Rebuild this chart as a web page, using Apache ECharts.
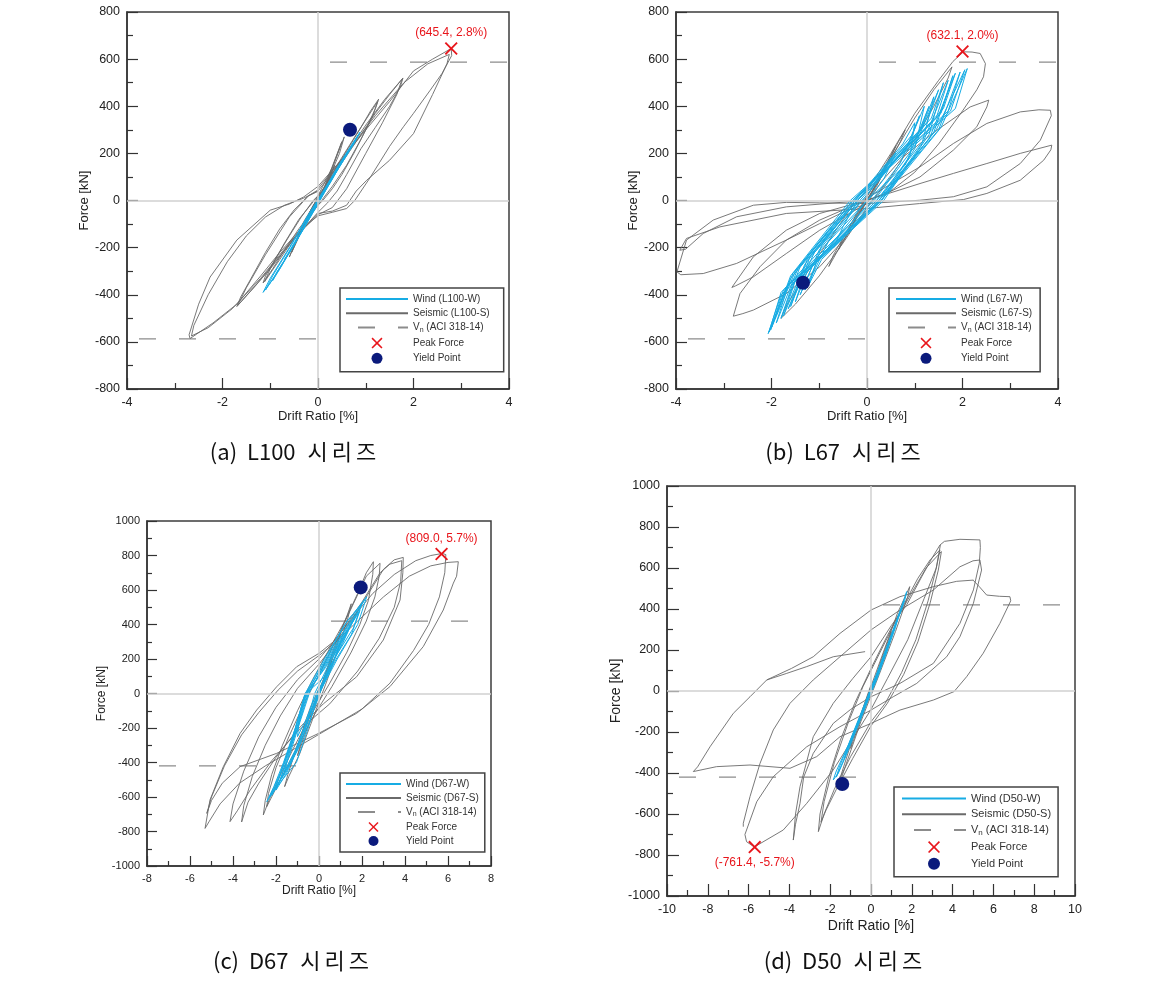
<!DOCTYPE html>
<html><head><meta charset="utf-8">
<script src="https://cdn.jsdelivr.net/npm/echarts@6/dist/echarts.min.js"></script>
<style>html,body{margin:0;padding:0;background:#fff}#c{width:1153px;height:984px}</style>
</head><body><div id="c"></div>
<script>
// ================= DATA =================
// ---- (a) L100 series ----
const aWind = [[0,0],[0.3,100],[0.5,170],[0.4,130],[0.1,30],[-0.2,-60],[-0.4,-130],[-0.3,-100],[0,-10],[0.3,90],[0.6,200],[0.7,230],[0.55,180],[0.2,60],[-0.2,-80],[-0.5,-180],[-0.7,-250],[-0.6,-220],[-0.3,-120],[0.1,30],[0.4,140],[0.75,250],[0.85,280],[0.7,230],[0.3,100],[-0.1,-40],[-0.5,-190],[-0.85,-300],[-0.95,-340],[-0.8,-290],[-0.4,-150],[0,0],[0.5,170],[0.88,290],[0.75,240],[0.35,110],[-0.1,-50],[-0.6,-220],[-1.0,-350],[-1.15,-390],[-1.0,-330],[-0.6,-200],[-0.2,-60],[0.2,70],[0.6,200],[0.8,260],[0.65,210],[0.2,60],[-0.3,-120],[-0.8,-290],[-1.1,-380],[-0.95,-320],[-0.5,-170],[0,0]];
const aSeisCore = [[0,0],[0.15,60],[0.3,120],[0.2,80],[0.05,20],[-0.1,-20],[-0.3,-100],[-0.2,-70],[-0.05,-10],[0.1,40],[0.35,150],[0.25,100],[0.05,20],[-0.15,-40],[-0.4,-150],[-0.3,-110],[-0.1,-30],[0.15,60],[0.55,270],[0.45,200],[0.2,80],[0,10],[-0.3,-90],[-0.6,-240],[-0.5,-190],[-0.2,-70],[0.1,40],[0.5,250],[0.3,140],[0,20],[-0.55,-220],[-0.4,-150],[-0.1,-30],[0,0]];
const aSeisLoop1 = [[0,0],[0.3,110],[0.6,210],[0.9,310],[1.1,380],[1.27,430],[1.2,390],[1.0,300],[0.75,200],[0.5,110],[0.3,50],[0.1,0],[-0.1,-40],[-0.4,-120],[-0.7,-210],[-0.95,-290],[-1.15,-350],[-1.1,-320],[-0.9,-250],[-0.6,-150],[-0.35,-70],[-0.1,0],[0.1,40],[0.4,150],[0.8,280],[1.25,420],[1.15,360],[0.9,260],[0.6,150],[0.3,60],[0,-20],[-0.4,-130],[-0.8,-250],[-1.12,-345],[-1.0,-290],[-0.7,-180],[-0.4,-80],[0,20]];
const aSeisLoop2 = [[0,20],[0.4,130],[0.8,250],[1.2,370],[1.5,450],[1.78,520],[1.72,480],[1.5,400],[1.2,310],[0.9,220],[0.6,110],[0.4,40],[0.2,-10],[0,-50],[-0.4,-140],[-0.9,-260],[-1.3,-360],[-1.7,-450],[-1.62,-410],[-1.4,-330],[-1.1,-220],[-0.8,-120],[-0.5,-40],[-0.2,20],[0,40],[0.5,170],[1.0,320],[1.4,430],[1.76,515],[1.65,450],[1.35,330],[1.0,200],[0.6,50],[0.3,-30],[0,-60],[-0.5,-160],[-1.0,-290],[-1.68,-445],[-1.5,-370],[-1.1,-230],[-0.6,-70],[-0.2,20],[0,45]];
const aSeisLoop3 = [[0,60],[0.5,175],[1.0,300],[1.5,420],[2.0,550],[2.4,600],[2.79,645],[2.8,615],[2.6,540],[2.35,468],[2.0,370],[1.79,313],[1.5,230],[1.1,100],[0.77,0],[0.6,-34],[0.3,-50],[0,-65],[-0.4,-130],[-0.8,-220],[-1.2,-320],[-1.7,-440],[-2.2,-520],[-2.68,-586],[-2.7,-570],[-2.5,-440],[-2.26,-325],[-1.7,-168],[-1.0,-41],[-0.6,-15],[-0.3,15],[0,60]];
const aSeisLoop4 = [[0,50],[0.6,200],[1.2,360],[1.8,500],[2.3,580],[2.75,620],[2.7,580],[2.4,450],[2.0,284],[1.5,171],[1.02,86],[0.8,40],[0.6,-20],[0.3,-45],[0,-55],[-0.6,-180],[-1.2,-330],[-1.8,-460],[-2.3,-540],[-2.65,-575],[-2.6,-530],[-2.3,-400],[-1.9,-260],[-1.5,-150],[-1.1,-70],[-0.7,-20],[-0.3,10],[0,40]];
const aVn = 587;
const aPeak = [[2.79, 645.4]];
const aPeakText = '(645.4, 2.8%)';
const aYield = [[0.67, 300]];

// ---- (b) L67 series ----
const bWind = [[0,0],[0.35,90],[0.6,200],[0.4,150],[-0.2,0],[-0.5,-110],[-0.7,-200],[-0.45,-150],[0.25,0],[0.9,190],[1.0,330],[0.75,240],[-0.25,0],[-0.95,-190],[-1.2,-350],[-0.95,-250],[0.3,0],[1.15,240],[1.4,440],[1.15,310],[-0.25,0],[-1.25,-250],[-1.6,-450],[-1.35,-320],[0.3,0],[1.4,290],[1.8,530],[1.55,370],[-0.3,0],[-1.45,-290],[-1.9,-520],[-1.65,-360],[0.3,0],[1.55,310],[2.1,560],[1.85,390],[-0.3,0],[-1.55,-310],[-2.07,-565],[-1.8,-400],[0.35,0],[1.3,280],[1.6,500],[1.35,350],[-0.25,0],[-1.5,-300],[-2.0,-540],[-1.75,-380],[0.3,0],[1.0,220],[1.2,400],[0.95,280],[-0.2,0],[-1.2,-240],[-1.5,-430],[-1.25,-300],[0.25,0],[1.5,300],[1.95,545],[1.7,380],[-0.3,0],[-1.4,-280],[-1.8,-500],[-1.55,-350],[0.2,0],[1.2,260],[1.7,510],[1.45,350],[-0.2,0],[-1.6,-330],[-2.05,-558],[-1.8,-390],[0,0],[0.8,150],[1.3,400],[1.1,290],[-0.15,0],[-1.0,-210],[-1.4,-400],[-1.15,-280],[0.2,0],[1.3,260],[1.85,540],[1.6,390],[-0.2,0],[-1.3,-270],[-1.75,-490],[-1.5,-340],[0.25,0],[1.45,300],[2.05,555],[1.75,380],[-0.35,0],[-1.6,-320],[-2.02,-550],[-1.7,-370],[0.15,0],[1.0,230],[1.5,470],[1.25,330],[-0.1,0],[-1.1,-220],[-1.65,-460],[-1.4,-330],[0.1,0],[0.7,160],[1.1,360],[0.9,250],[-0.1,0],[-0.8,-170],[-1.3,-380],[-1.05,-260],[0,0]];
const bSeisCore = [[0,0],[0.2,70],[0.4,150],[0.3,110],[0.05,20],[-0.2,-60],[-0.4,-140],[-0.3,-100],[0,0],[0.3,110],[0.6,230],[0.5,180],[0.2,60],[-0.2,-70],[-0.6,-210],[-0.5,-160],[-0.1,-20],[0.3,120],[0.8,300],[0.7,250],[0.3,100],[-0.3,-100],[-0.8,-280],[-0.7,-230],[-0.2,-50],[0,20]];
const bSeisLoop1 = [[0,20],[0.5,180],[1.0,350],[1.4,470],[1.78,567],[1.7,520],[1.4,400],[1.0,260],[0.5,100],[0,-30],[-0.5,-180],[-1.0,-320],[-1.5,-440],[-1.8,-500],[-1.7,-450],[-1.3,-320],[-0.8,-170],[-0.3,-20],[0,40]];
const bSeisLoop2 = [[0,40],[0.5,200],[1.0,370],[1.5,510],[1.8,590],[2.02,631],[2.2,630],[2.37,624],[2.48,581],[2.44,525],[2.3,470],[2.0,380],[1.5,240],[1.0,120],[0.5,40],[0,0],[-0.5,-40],[-0.99,-83],[-1.69,-168],[-2.24,-281],[-2.66,-395],[-2.8,-491],[-2.6,-480],[-2.38,-465],[-1.69,-395],[-0.99,-281],[-0.5,-170],[0,-40]];
const bSeisLoop3 = [[0,-13],[0.3,80],[0.76,185],[1.46,298],[2.16,397],[2.55,426],[2.51,397],[2.3,313],[1.81,214],[1.11,100],[0.41,30],[0,1],[-0.99,-55],[-1.69,-126],[-2.38,-239],[-2.83,-369],[-2.75,-362],[-2.38,-324],[-1.69,-225],[-0.99,-126],[0,-13]];
const bSeisLoop4 = [[0,10],[1.11,143],[1.81,242],[2.51,327],[3.21,376],[3.6,385],[3.84,383],[3.86,360],[3.63,256],[3.21,157],[2.51,58],[1.81,16],[1.1,1],[0,-13],[-1.0,-10],[-1.69,-8],[-2.38,-20],[-3.22,-83],[-3.78,-168],[-3.98,-303],[-3.9,-315],[-3.43,-310],[-2.73,-267],[-1.69,-168],[-0.99,-98],[-0.4,-40],[0,-15]];
const bSeisLoop5 = [[0,1],[1.11,72],[1.81,115],[2.51,157],[3.21,200],[3.87,235],[3.85,215],[3.7,171],[3.21,86],[2.51,30],[2.02,4],[1.1,-13],[0,-34],[-1.69,-55],[-3.08,-112],[-3.78,-161],[-3.92,-211],[-3.8,-207],[-3.43,-140],[-2.73,-69],[-1.69,-27],[0,1]];
const bVn = 587;
const bPeak = [[2.0, 632.1]];
const bPeakText = '(632.1, 2.0%)';
const bYield = [[-1.34, -349]];

// ---- (c) D67 series ----
const cWind = [[0,0],[0.55,150],[1.0,290],[0.7,200],[0.2,90],[-0.6,0],[-0.9,-130],[-1.0,-250],[-0.6,-150],[-0.1,0],[0.5,150],[1.1,290],[1.5,400],[1.1,320],[0.3,150],[-0.6,0],[-1.0,-180],[-1.35,-330],[-1.6,-450],[-1.1,-330],[-0.6,-170],[-0.05,0],[0.8,200],[1.5,340],[1.9,480],[1.5,400],[0.6,220],[-0.1,80],[-0.65,0],[-1.1,-200],[-1.6,-400],[-2.0,-540],[-1.5,-450],[-1.0,-300],[-0.5,-150],[0,0],[0.85,200],[1.8,400],[2.22,561],[1.2,400],[0.25,200],[-0.64,0],[-1.1,-200],[-1.65,-400],[-2.1,-540],[-2.43,-627],[-1.9,-530],[-1.05,-400],[-0.5,-200],[-0.04,0],[0.7,200],[1.6,380],[2.0,520],[1.3,420],[0.4,220],[-0.5,20],[-0.9,-150],[-1.45,-350],[-1.9,-500],[-2.2,-590],[-1.7,-480],[-1.0,-330],[-0.4,-150],[0.1,20],[0.9,250],[1.7,450],[1.2,350],[0.2,150],[-0.5,0],[-1.0,-200],[-1.5,-380],[-1.8,-500],[-1.3,-400],[-0.7,-200],[0,0],[0.6,200],[1.4,380],[2.1,540],[1.5,430],[0.5,230],[-0.3,60],[-0.75,-50],[-1.2,-250],[-1.8,-460],[-2.3,-600],[-1.8,-500],[-1.1,-350],[-0.6,-180],[-0.2,0],[0.5,180],[1.2,330],[1.8,470],[1.3,380],[0.4,200],[-0.4,20],[-0.9,-170],[-1.4,-370],[-2.0,-560],[-1.5,-460],[-0.8,-270],[-0.3,-80],[0,0]];
const cSeisCore = [[0,0],[0.3,100],[0.6,200],[0.5,150],[0.1,20],[-0.3,-90],[-0.6,-190],[-0.5,-140],[-0.1,-20],[0.3,110],[0.8,280],[1.0,350],[0.85,280],[0.4,120],[-0.1,-40],[-0.6,-220],[-1.0,-360],[-0.85,-290],[-0.4,-110],[0.2,80],[0.8,300],[1.3,450],[1.5,520],[1.35,440],[0.9,260],[0.3,50],[-0.3,-150],[-0.9,-350],[-1.4,-480],[-1.6,-540],[-1.45,-470],[-1.0,-300],[-0.4,-80],[0,30]];
const cSeisLoop1 = [[-2.59,-704],[-2.5,-620],[-2.2,-470],[-1.7,-300],[-1.0,-100],[-0.3,80],[0.4,240],[1.2,420],[1.8,580],[2.2,700],[2.53,764],[2.5,690],[2.3,540],[1.9,400],[1.3,240],[0.5,60],[-0.4,-130],[-1.2,-320],[-1.9,-500],[-2.3,-610],[-2.59,-704]];
const cSeisLoop2 = [[-2.43,-656],[-2.35,-580],[-2.0,-430],[-1.4,-250],[-0.7,-60],[0,110],[0.8,310],[1.6,520],[2.2,680],[2.84,755],[2.8,680],[2.6,560],[2.2,420],[1.5,240],[0.6,40],[-0.3,-140],[-1.1,-330],[-1.8,-500],[-2.43,-656]];
const cSeisLoop3 = [[-3.6,-745],[-3.5,-650],[-3.1,-480],[-2.5,-300],[-1.8,-130],[-1.0,30],[0,170],[0.8,300],[1.6,440],[2.4,600],[3.0,720],[3.5,775],[3.92,789],[3.9,700],[3.77,542],[2.99,310],[1.75,97],[0.2,-60],[-1.0,-210],[-2.0,-370],[-2.8,-520],[-3.3,-630],[-3.6,-745]];
const cSeisLoop4 = [[-4.14,-743],[-4.0,-640],[-3.5,-450],[-2.8,-250],[-2.0,-80],[-1.0,80],[0,200],[1.0,350],[2.0,530],[2.84,700],[3.3,750],[3.85,770],[3.8,650],[3.5,500],[2.8,320],[1.8,130],[0.5,-60],[-1.0,-220],[-2.2,-390],[-3.2,-560],[-3.8,-680],[-4.14,-743]];
const cSeisLoop5 = [[-5.3,-782],[-5.07,-617],[-4.45,-424],[-3.67,-231],[-2.9,-96],[-1.97,39],[-1.04,155],[0,233],[0.67,300],[1.5,430],[2.5,580],[3.5,690],[4.5,770],[5.2,800],[5.74,812],[5.9,805],[5.85,700],[5.6,560],[5.1,400],[4.4,250],[3.3,60],[2.0,-90],[0.5,-200],[-1.0,-310],[-2.5,-420],[-3.7,-520],[-4.6,-640],[-5.1,-740],[-5.3,-782]];
const cSeisLoop6 = [[-5.22,-695],[-5.0,-600],[-4.4,-420],[-3.6,-240],[-2.8,-110],[-1.9,20],[-1.0,130],[0,220],[0.7,290],[1.8,420],[3.0,560],[4.2,680],[5.2,740],[6.0,760],[6.48,764],[6.4,680],[6.25,640],[5.78,484],[4.85,272],[3.3,40],[1.75,-115],[0,-230],[-1.97,-347],[-3.67,-424],[-4.5,-520],[-5.0,-620],[-5.22,-695]];
const cVn = 420;
const cPeak = [[5.7, 809.0]];
const cPeakText = '(809.0, 5.7%)';
const cYield = [[1.94, 615]];

// ---- (d) D50 series ----
const dWind = [[0,0],[0.5,130],[0.9,240],[0.8,200],[0.3,60],[-0.3,-80],[-0.8,-200],[-0.7,-170],[-0.2,-40],[0.4,110],[1.0,270],[1.3,350],[1.2,310],[0.7,170],[0,0],[-0.6,-150],[-1.1,-270],[-1.3,-330],[-1.2,-290],[-0.6,-140],[0.1,30],[0.8,220],[1.4,380],[1.75,485],[1.65,440],[1.1,290],[0.4,100],[-0.4,-110],[-1.2,-310],[-1.6,-400],[-1.85,-434],[-1.7,-390],[-1.1,-260],[-0.3,-60],[0.5,140],[1.2,330],[1.6,440],[1.5,400],[0.9,240],[0.1,20],[-0.7,-180],[-1.4,-350],[-1.7,-420],[-1.55,-370],[-0.8,-190],[0,0]];
const dSeisCore = [[0,0],[0.5,150],[1.0,290],[0.9,240],[0.3,70],[-0.4,-110],[-1.0,-280],[-0.9,-230],[-0.3,-60],[0.5,160],[1.3,380],[1.9,509],[1.8,460],[1.2,290],[0.4,80],[-0.5,-150],[-1.3,-380],[-1.6,-470],[-1.5,-420],[-0.8,-200],[0,30]];
const dSeisLoop1 = [[-2.58,-686],[-2.5,-600],[-2.1,-430],[-1.5,-240],[-0.8,-60],[0,110],[0.8,270],[1.6,420],[2.3,550],[2.9,640],[3.38,688],[3.2,600],[2.8,440],[2.2,250],[1.5,90],[0.7,-60],[0,-150],[-1.0,-320],[-1.8,-480],[-2.3,-600],[-2.58,-686]];
const dSeisLoop2 = [[-2.45,-640],[-2.3,-540],[-1.8,-350],[-1.1,-150],[-0.4,20],[0.4,180],[1.2,340],[2.0,480],[2.7,600],[3.45,680],[3.3,590],[2.9,430],[2.3,240],[1.6,80],[0.8,-60],[0,-170],[-0.9,-330],[-1.7,-480],[-2.2,-580],[-2.45,-640]];
const dSeisLoop3 = [[-3.81,-727],[-3.7,-600],[-3.48,-467],[-2.83,-223],[-1.85,-60],[-0.9,60],[0,167],[1.0,320],[1.75,420],[2.5,560],[3.0,650],[3.38,712],[3.6,730],[4.36,740],[5.34,737],[5.36,700],[5.31,623],[5.02,493],[4.36,330],[3.06,135],[1.42,37],[0,-28],[-1.0,-90],[-1.85,-158],[-2.83,-304],[-3.3,-420],[-3.48,-548],[-3.7,-650],[-3.81,-727]];
const dSeisLoop4 = [[-6.26,-662],[-6.26,-645],[-5.93,-515],[-5.44,-353],[-4.79,-190],[-3.97,-60],[-2.83,54],[-1.52,167],[0,298],[1.42,395],[3.06,493],[4.36,606],[5.0,635],[5.34,639],[5.42,590],[5.02,428],[4.36,265],[3.71,167],[2.24,37],[1.09,-28],[0,-93],[-1.52,-174],[-3.15,-272],[-4.79,-418],[-5.6,-540],[-6.18,-700],[-6.1,-735],[-5.72,-761],[-4.3,-678],[-3.15,-548],[-1.85,-385],[-1.0,-250],[0,-90],[0.8,60],[1.8,250],[2.6,450],[3.2,600],[3.4,712]];
const dSeisLoop5 = [[5.0,541],[5.3,510],[5.67,468],[6.3,462],[6.81,460],[6.85,440],[6.32,330],[5.5,184],[4.69,70],[4.07,-3],[3.06,-44],[1.42,-93],[0,-158],[-1.52,-223],[-2.66,-320],[-3.97,-377],[-5.93,-361],[-7.57,-369],[-8.71,-393],[-8.5,-370],[-7.89,-272],[-6.75,-109],[-5.93,-28],[-5.11,54],[-4.13,86],[-3.15,119],[-1.85,167],[-0.29,192]];
const dSeisLoop6 = [[-5.11,54],[-3.9,110],[-2.83,167],[-1.52,281],[0,395],[1.42,460],[3.06,509],[4.2,535],[5.02,541]];
const dVn = 420;
const dPeak = [[-5.7, -761.4]];
const dPeakText = '(-761.4, -5.7%)';
const dYield = [[-1.41, -454]];

// ---- axis ranges [min, max, interval] ----
const aXRange = [-4, 4, 2], aYRange = [-800, 800, 200];
const bXRange = [-4, 4, 2], bYRange = [-800, 800, 200];
const cXRange = [-8, 8, 2], cYRange = [-1000, 1000, 200];
const dXRange = [-10, 10, 2], dYRange = [-1000, 1000, 200];

// captions: [label, specimen series, suffix]
const captionParts = [['(a)', 'L100', '시리즈'], ['(b)', 'L67', '시리즈'], ['(c)', 'D67', '시리즈'], ['(d)', 'D50', '시리즈']];
const VN_NAME = 'Vn (ACI 318-14)';

// ================= LAYOUT / STYLE =================
const FONT = "'Liberation Sans', Arial, sans-serif";
const KFONT = "'Noto Sans CJK KR', sans-serif";
const WIND_C = '#17ace4', SEIS_C = '#6a6a6a', PEAK_C = '#e8151b', YIELD_C = '#0b1a7c';
const X_PATH = 'path://M1,0L5,4L9,0L10,1L6,5L10,9L9,10L5,6L1,10L0,9L4,5L0,1Z';

const panels = [
  {grid:{left:127, top:12, width:382, height:377}, x:aXRange, y:aYRange, fs:12.5, nfs:13, xGap:19, yGap:36, tick:[11,6],
   windName:'Wind (L100-W)', seisName:'Seismic (L100-S)', wind:aWind, seis:[aSeisCore,aSeisLoop1,aSeisLoop2,aSeisLoop3,aSeisLoop4],
   vn:aVn, peak:aPeak, peakText:aPeakText, peakPos:'top', yld:aYield,
   legend:{left:340, top:288, itemWidth:62, itemHeight:11, itemGap:4.2, fontSize:10, padding:[6,14,8,5]},
   cap:[294, 452]},
  {grid:{left:676, top:12, width:382, height:377}, x:bXRange, y:bYRange, fs:12.5, nfs:13, xGap:19, yGap:36, tick:[11,6],
   windName:'Wind (L67-W)', seisName:'Seismic (L67-S)', wind:bWind, seis:[bSeisCore,bSeisLoop1,bSeisLoop2,bSeisLoop3,bSeisLoop4,bSeisLoop5],
   vn:bVn, peak:bPeak, peakText:bPeakText, peakPos:'top', yld:bYield,
   legend:{left:889, top:288, itemWidth:60, itemHeight:11, itemGap:4.2, fontSize:10, padding:[6,8,8,6]},
   cap:[844, 452]},
  {grid:{left:147, top:521, width:344, height:345}, x:cXRange, y:cYRange, fs:11, nfs:12, xGap:16, yGap:38, tick:[10,5],
   windName:'Wind (D67-W)', seisName:'Seismic (D67-S)', wind:cWind, seis:[cSeisCore,cSeisLoop1,cSeisLoop2,cSeisLoop3,cSeisLoop4,cSeisLoop5,cSeisLoop6],
   vn:cVn, peak:cPeak, peakText:cPeakText, peakPos:'top', yld:cYield,
   legend:{left:340, top:773, itemWidth:55, itemHeight:10, itemGap:4, fontSize:10, padding:[6,6,6,5]},
   cap:[292, 961]},
  {grid:{left:667, top:486, width:408, height:410}, x:dXRange, y:dYRange, fs:12.5, nfs:14, xGap:23, yGap:44, tick:[12,6],
   windName:'Wind (D50-W)', seisName:'Seismic (D50-S)', wind:dWind, seis:[dSeisCore,dSeisLoop1,dSeisLoop2,dSeisLoop3,dSeisLoop4,dSeisLoop5,dSeisLoop6],
   vn:dVn, peak:dPeak, peakText:dPeakText, peakPos:'bottom', yld:dYield,
   legend:{left:894, top:787, itemWidth:64, itemHeight:12, itemGap:4.7, fontSize:11, padding:[6,7,7,7]},
   cap:[844, 961]}
];

const grid = [], xAxis = [], yAxis = [], legend = [], series = [], graphic = [];
panels.forEach((p, i) => {
  grid.push(Object.assign({show:true, borderColor:'#3c3c3c', borderWidth:1.5, backgroundColor:'#fff', containLabel:false}, p.grid));
  const common = (r, name, gap) => ({
    type:'value', gridIndex:i, min:r[0], max:r[1], interval:r[2],
    axisLine:{show:true, onZero:false, lineStyle:{color:'#333', width:1.5}},
    axisTick:{show:true, inside:true, length:p.tick[0], lineStyle:{color:'#333', width:1.2}},
    minorTick:{show:true, splitNumber:2, length:p.tick[1], lineStyle:{color:'#333', width:1.2}},
    splitLine:{show:false}, minorSplitLine:{show:false},
    axisLabel:{fontSize:p.fs, color:'#222', margin:7, fontFamily:FONT, showMinLabel:true, showMaxLabel:true,
      formatter: v => String(v)},
    name:name, nameLocation:'middle', nameGap:gap,
    nameTextStyle:{fontSize:p.nfs, color:'#222', fontFamily:FONT}
  });
  xAxis.push(common(p.x, 'Drift Ratio [%]', p.xGap));
  yAxis.push(common(p.y, 'Force [kN]', p.yGap));
  const ax = {xAxisIndex:i, yAxisIndex:i};
  const vnStyle = {color:'#8c8c8c', width:1.2, type:[17,23], dashOffset:28};
  series.push({type:'line', name:VN_NAME, ...ax, data:[[0,p.vn],[p.x[1],p.vn]], symbol:'none', lineStyle:vnStyle,
    itemStyle:{color:'#8c8c8c'}, z:2, silent:true});
  series.push({type:'line', name:VN_NAME, ...ax, data:[[p.x[0],-p.vn],[0,-p.vn]], symbol:'none', lineStyle:vnStyle,
    itemStyle:{color:'#8c8c8c'}, z:2, silent:true,
    markLine:{silent:true, symbol:['none','none'], label:{show:false}, animation:false,
      lineStyle:{color:'#d0d0d0', width:1.5, type:'solid'}, emphasis:{disabled:true},
      data:[{xAxis:0},{yAxis:0}]}});
  p.seis.forEach(loop => series.push({type:'line', name:p.seisName, ...ax, data:loop, symbol:'none', showSymbol:false,
    lineStyle:{color:SEIS_C, width:0.9}, itemStyle:{color:SEIS_C}, z:3, silent:true}));
  series.push({type:'line', name:p.windName, ...ax, data:p.wind, symbol:'none', showSymbol:false,
    lineStyle:{color:WIND_C, width:1}, itemStyle:{color:WIND_C}, z:4, silent:true});
  series.push({type:'scatter', name:'Peak Force', ...ax, data:p.peak, symbol:X_PATH, symbolSize:13,
    itemStyle:{color:PEAK_C, opacity:1}, z:6, silent:true,
    label:{show:true, position:p.peakPos, distance:3, formatter:p.peakText, color:PEAK_C, fontSize:12, fontFamily:FONT}});
  series.push({type:'scatter', name:'Yield Point', ...ax, data:p.yld, symbol:'circle', symbolSize:14,
    itemStyle:{color:YIELD_C, opacity:1}, z:5, silent:true});
  const L = p.legend;
  legend.push({
    data:[{name:p.windName, itemStyle:{opacity:0}}, {name:p.seisName, itemStyle:{opacity:0}}, {name:VN_NAME, itemStyle:{opacity:0}}, 'Peak Force', 'Yield Point'],
    orient:'vertical', left:L.left, top:L.top, itemWidth:L.itemWidth, itemHeight:L.itemHeight, itemGap:L.itemGap,
    padding:L.padding, borderColor:'#444', borderWidth:1.5, backgroundColor:'#fff', borderRadius:0,
    selectedMode:false,
    formatter: n => n === VN_NAME ? 'V{sub|n} (ACI 318-14)' : n,
    textStyle:{fontSize:L.fontSize, color:'#333', fontFamily:FONT,
      rich:{sub:{fontSize:Math.round(L.fontSize*0.7), color:'#333', fontFamily:FONT, padding:[5,0,0,0]}}}
  });
  const cp = captionParts[i];
  const capText = '{m|' + cp[0] + '  ' + cp[1] + '  }' + cp[2].split('').map(ch => '{k|' + ch + '}').join('');
  graphic.push({type:'text', x:p.cap[0], y:p.cap[1], silent:true,
    style:{text:capText, fontSize:22, fontFamily:KFONT, fill:'#111', align:'center', verticalAlign:'middle',
      rich:{m:{fontSize:22, fontFamily:KFONT, fill:'#111'}, k:{fontSize:22, fontFamily:KFONT, fill:'#111', padding:[0,2,0,2]}}}});
});

const chart = echarts.init(document.getElementById('c'), null, {renderer:'canvas'});
chart.setOption({animation:false, backgroundColor:'#fff', grid, xAxis, yAxis, legend, series, graphic});
</script></body></html>
